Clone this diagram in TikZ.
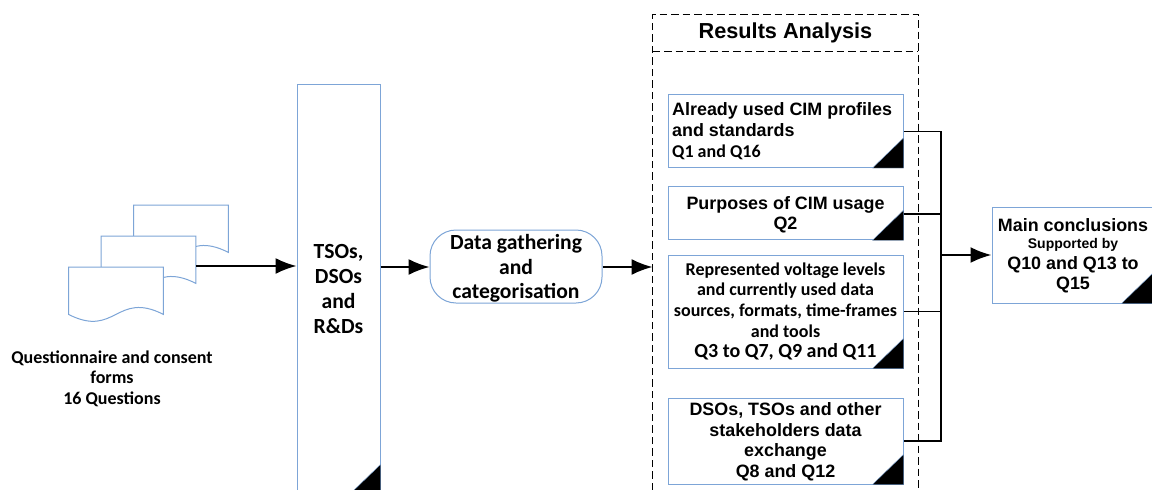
\documentclass[tikz,border=0pt]{standalone}
\usepackage{fontspec}
\setmainfont{Liberation Sans}
\newfontfamily\calibri{Carlito}
\usetikzlibrary{arrows.meta,positioning}
\definecolor{boxblue}{RGB}{125,165,215}
\newcommand\sized[2]{\fontsize{#1}{#2}\selectfont}
\tikzset{
  card/.style={draw=boxblue, line width=1pt, fill=white, inner sep=0pt, align=center},
  arialbold/.style={font=\bfseries\sized{17.9}{20.5}},
  calibold/.style={font=\calibri\bfseries\sized{18}{20.7}},
  calibig/.style={font=\calibri\bfseries\sized{21.6}{24.7}},
  frame/.style={draw=black, dash pattern=on 7.5pt off 4pt, line width=1pt},
  link/.style={line width=1.8pt, -{Latex[length=21pt,width=16pt]}},
  bus/.style={line width=1.8pt}
}
\newcommand\Card[6]{\node[card, #6, minimum width=#4pt, minimum height=#5pt] (#1) at (#2,#3)}
\begin{document}
\begin{tikzpicture}[x=1pt,y=-1pt]
  \clip (0,0) rectangle (1152,490);

  %% documents
  \foreach \name/\X/\Y in {docback/133.5/205, docmid/101/236, docfront/68.5/267} {
    \node[minimum width=94.5pt, minimum height=47pt, inner sep=0pt, anchor=north west] (\name) at (\X,\Y) {};
    \draw[draw=boxblue, line width=1pt, fill=white] (\name.north west) -- (\name.north east) -- (\name.south east)
      .. controls +(-47.25,-24) and +(47.25,24) .. (\name.south west) -- cycle;
  }
  \node[calibold, align=center] (doctext) at (112,378.5) {Questionnaire and consent\\forms\\16 Questions};

  %% stakeholders and gathering
  \Card{actors}{338.5}{289}{83}{410}{calibig} {};
  \node[calibig, align=center] (actorstext) at (338.5,289) {TSOs,\\DSOs\\and\\R\&Ds};
  \Card{gather}{516}{266.5}{172}{73}{calibig, rounded corners=26pt} {};
  \node[calibig, align=center] (gathertext) at (516,268.5) {Data gathering\\and\\categorisation};

  %% results frame
  \draw[frame] (652.5,490) -- (652.5,14) -- (918,14) -- (918,490);
  \draw[frame] (652.5,51) -- (918,51);
  \node[font=\bfseries\sized{21.7}{24}] (results) at (785.5,33) {Results Analysis};

  \Card{used}{785.5}{131}{235}{73}{arialbold} {};
  \node[arialbold, align=left, inner sep=0pt, anchor=west] (usedtext) at (672,131.5) {Already used CIM profiles\\and standards\\[1pt]{\calibri\sized{18}{20}Q1 and Q16}};
  \Card{purpose}{785.5}{213}{235}{53.5}{arialbold} {};
  \node[arialbold, align=center] (purposetext) at (785.5,215) {Purposes of CIM usage\\Q2};
  \Card{voltage}{785.5}{311.5}{235}{113}{calibold} {Represented voltage levels\\and currently used data\\sources, formats, time-frames\\and tools\\{\sized{20}{21}Q3 to Q7, Q9 and Q11}};
  \Card{exchange}{785.5}{441}{235}{86}{arialbold} {};
  \node[arialbold, align=center] (exchangetext) at (785.5,442) {DSOs, TSOs and other\\stakeholders data\\exchange\\Q8 and Q12};
  \Card{main}{1072}{255}{160}{96}{arialbold} {};
  \node[arialbold, align=center] (maintext) at (1073,256) {Main conclusions\\[-3pt]{\sized{14}{18}Supported by}\\Q10 and Q13 to\\Q15};

  \foreach \name in {actors, used, purpose, voltage, exchange, main}
    \filldraw[draw=boxblue, fill=black] (\name.south east) -- ++(-31,0) -- ++(31,-30) -- cycle;

  %% connectors
  \coordinate (busused) at (941,131.5);
  \coordinate (busexchange) at (941,441);
  \coordinate (framein) at (652.5,267);
  \draw[link] (docmid.east |- 0,266) -- (actors.west |- 0,266);
  \draw[link] (actors.east |- 0,267) -- (gather.west |- 0,267);
  \draw[link] (gather.east |- framein) -- (framein);
  \draw[bus] (used.east |- busused) -- (busused) -- (busexchange) -- (exchange.east |- busexchange);
  \draw[line width=1.4pt] (purpose.east |- 0,214) -- (941,214);
  \draw[line width=1.4pt] (voltage.east) -- (voltage.east -| busused);
  \draw[link, line width=2.2pt] (941,255) -- (main.west);
\end{tikzpicture}
\end{document}
